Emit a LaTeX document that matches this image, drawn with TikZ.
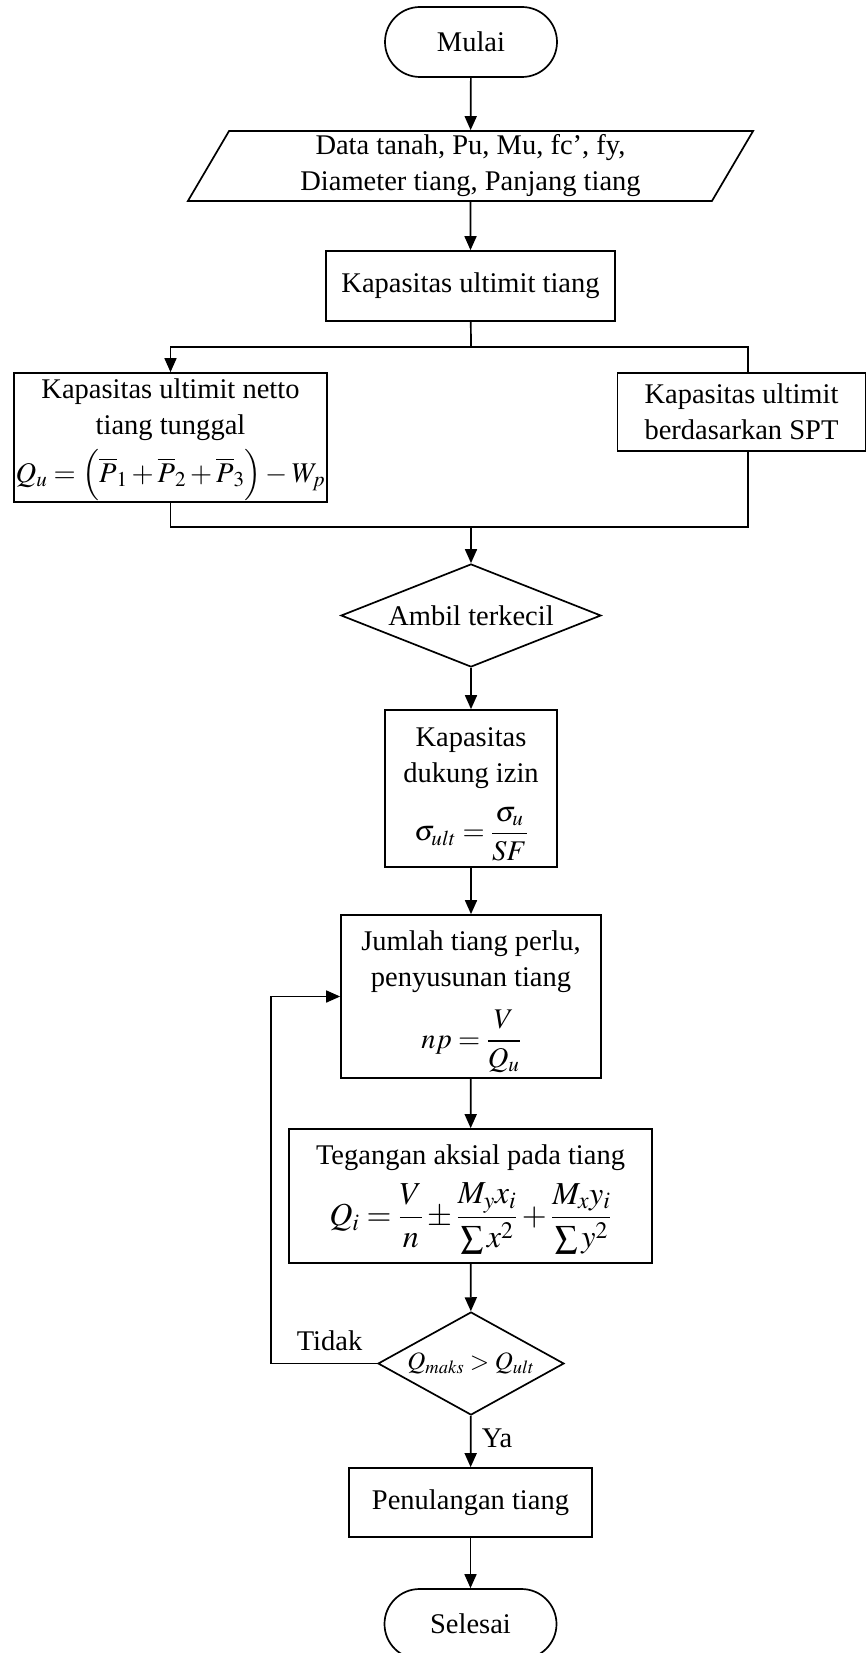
\documentclass[tikz,border=0pt]{standalone}
\usepackage{amsmath}
\usepackage{mathptmx}
\usepackage[no-math]{fontspec}
\setmainfont{Liberation Serif}
\usetikzlibrary{arrows.meta,shapes.geometric}

\tikzset{
  box/.style={draw, rectangle, line width=1.7pt, align=center, inner sep=0pt},
  term/.style={box, rounded corners=35pt, minimum width=172pt, minimum height=70pt},
  io/.style={draw, trapezium, trapezium left angle=65, trapezium right angle=115,
    trapezium stretches=true, line width=1.7pt, align=center, inner sep=0pt},
  decision/.style={draw, diamond, line width=1.7pt, inner sep=0pt},
  flow/.style={-{Triangle[length=14pt,width=12pt]}, line width=1.7pt},
  link/.style={line width=1.7pt},
  lbl/.style={inner sep=0pt, anchor=base}
}
\newcommand{\bigmath}[1]{{\fontsize{32}{36}\selectfont$#1$}}
% invisible strut that lowers the first line of a box
\newcommand{\topstrut}[1]{\rule{0pt}{#1}}

\begin{document}
\begin{tikzpicture}[x=1pt, y=-1pt, font=\fontsize{28.5}{36}\selectfont]
\useasboundingbox (0,0) rectangle (867,1653);

% process steps, top to bottom
\node[term] (start) at (471,42) {Mulai};
\node[io, minimum width=567pt, minimum height=70pt] (data) at (470.5,166)
  {Data tanah, Pu, Mu, fc’, fy,\\Diameter tiang, Panjang tiang};
\node[box, minimum width=289pt, minimum height=70pt] (ult) at (470.5,286)
  {Kapasitas ultimit tiang};
\node[box, minimum width=313pt, minimum height=129pt] (netto) at (170.5,437.5)
  {\topstrut{24pt}Kapasitas ultimit netto\\tiang tunggal\\[8pt]
   $Q_u = \Bigl(\overline{P}_1+\overline{P}_2+\overline{P}_3\Bigr)-W_p$};
\node[box, minimum width=248pt, minimum height=78pt] (spt) at (741.5,412)
  {Kapasitas ultimit\\berdasarkan SPT};
\node[decision, aspect=2.5, minimum width=260pt, minimum height=103pt] (pick) at (471,615.5)
  {Ambil terkecil};
\node[box, minimum width=172pt, minimum height=157pt] (izin) at (471,788.5)
  {\topstrut{30pt}Kapasitas\\dukung izin\\[18pt]$\sigma_{ult}=\dfrac{\sigma_u}{SF}$};
\node[box, minimum width=260pt, minimum height=163pt] (jumlah) at (471,996.5)
  {\topstrut{30pt}Jumlah tiang perlu,\\penyusunan tiang\\[17pt]$np=\dfrac{V}{Q_u}$};
\node[box, minimum width=363pt, minimum height=134pt] (tegangan) at (470.5,1196)
  {\topstrut{27pt}Tegangan aksial pada tiang\\[11pt]
   \bigmath{Q_i=\dfrac{V}{n}\pm\dfrac{M_y x_i}{\sum x^2}+\dfrac{M_x y_i}{\sum y^2}}};
\node[decision, minimum width=186pt, minimum height=103pt] (check) at (471,1363.5) {};
\node[inner sep=0pt, font=\fontsize{25}{28}\selectfont] (checktext) at (check.center)
  {$Q_{maks}>Q_{ult}$};
\node[box, minimum width=243pt, minimum height=69pt] (tulangan) at (470.5,1502.5)
  {Penulangan tiang};
\node[term] (finish) at (470.5,1624) {Selesai};

% branch and merge points
\coordinate (split) at (471,347);
\coordinate (merge) at (471,527);

% connectors
\draw[flow] (start) -- (data);
\draw[flow] (data) -- (ult);
\draw[link] (ult) -- (split);
\draw[flow] (split) -| (netto.north);
\draw[link] (split) -| ([xshift=6.5pt]spt.north);
\draw[link] (netto.south) |- (merge);
\draw[link] ([xshift=6.5pt]spt.south) |- (merge);
\draw[flow] (merge) -- (pick.north);
\draw[flow] (pick) -- (izin);
\draw[flow] (izin) -- (jumlah);
\draw[flow] (jumlah) -- (tegangan);
\draw[flow] (tegangan) -- (check);
\draw[flow] (check.west) -- ++(-106,0) |- (jumlah.west);
\draw[flow] (check) -- (tulangan);
\draw[flow] (tulangan) -- (finish);

% decision labels
\node[lbl] (no) at (329.5,1350) {Tidak};
\node[lbl] (yes) at (497,1447) {Ya};
\end{tikzpicture}
\end{document}
